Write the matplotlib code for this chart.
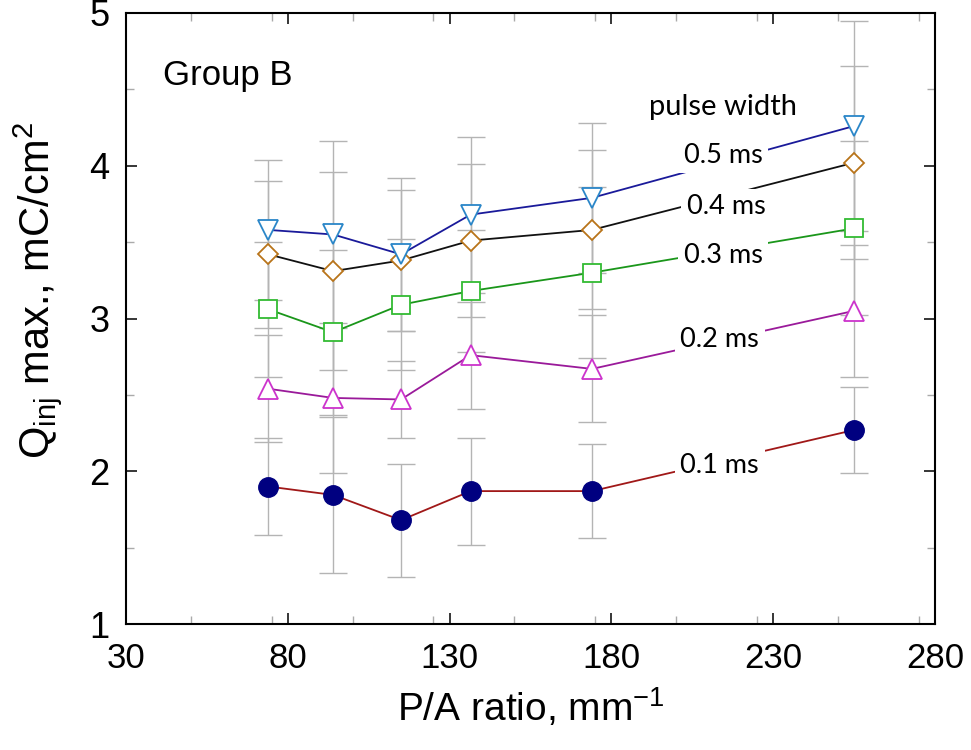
import matplotlib
matplotlib.use("Agg")
import matplotlib.pyplot as plt
from matplotlib.ticker import MultipleLocator, FixedLocator

plt.rcParams['mathtext.default'] = 'regular'

# ---- data ----
pa_ratio = [74, 94, 115, 136.5, 174, 255]
q_01 = [1.90, 1.845, 1.68, 1.87, 1.87, 2.27]
e_01 = [0.32, 0.51, 0.37, 0.35, 0.31, 0.28]
q_02 = [2.54, 2.48, 2.47, 2.76, 2.67, 3.05]
e_02 = [0.35, 0.49, 0.25, 0.35, 0.35, 0.43]
q_03 = [3.06, 2.91, 3.09, 3.18, 3.30, 3.59]
e_03 = [0.44, 0.54, 0.43, 0.40, 0.56, 0.57]
q_04 = [3.42, 3.31, 3.38, 3.51, 3.58, 4.02]
e_04 = [0.48, 0.65, 0.46, 0.50, 0.52, 0.63]
q_05 = [3.58, 3.55, 3.42, 3.68, 3.79, 4.26]
e_05 = [0.46, 0.61, 0.50, 0.51, 0.49, 0.69]
pulse_labels = ["0.1 ms", "0.2 ms", "0.3 ms", "0.4 ms", "0.5 ms"]
label_pos = [(213.5, 2.04), (213.5, 2.86), (214.5, 3.41), (215.5, 3.73), (214.5, 4.07)]
x_ticks = [30, 80, 130, 180, 230, 280]
y_ticks = [1, 2, 3, 4, 5]

series = [
    (q_01, e_01, dict(color='#a01818', marker='o', ms=14, mfc='#000080', mec='#000080', mew=1.0)),
    (q_02, e_02, dict(color='#9a1a9a', marker='^', ms=15, mfc='white', mec='#cc33cc', mew=1.3)),
    (q_03, e_03, dict(color='#1a961a', marker='s', ms=13.5, mfc='white', mec='#33bb33', mew=1.3)),
    (q_04, e_04, dict(color='#111111', marker='D', ms=10.5, mfc='white', mec='#b8741a', mew=1.3)),
    (q_05, e_05, dict(color='#1a1a9a', marker='v', ms=15, mfc='white', mec='#2a86c8', mew=1.3)),
]

fig = plt.figure(figsize=(9.71, 7.5), dpi=100)
ax = fig.add_axes([126/971, 1-624/750, 809/971, 611/750])

for q, e, st in series:
    ax.errorbar(pa_ratio, q, yerr=e, fmt='none', ecolor='#b4b4b4', elinewidth=1.0,
                capsize=10, capthick=1.0, zorder=1)
for q, e, st in series:
    ax.plot(pa_ratio, q, lw=1.3, zorder=3, **st)

for lab, (lx, ly) in zip(pulse_labels, label_pos):
    ax.text(lx, ly, lab, fontsize=19.5, family=['Lato', 'DejaVu Sans'], ha='center', va='center',
            zorder=5, bbox=dict(facecolor='white', edgecolor='none', pad=4))
ax.text(214.5, 4.385, "pulse width", fontsize=21, family=['Lato', 'DejaVu Sans'],
        ha='center', va='center', zorder=5)
ax.text(0.046, 0.897, "Group B", transform=ax.transAxes, fontsize=25,
        family=['Liberation Sans', 'DejaVu Sans'], ha='left', va='center')

ax.set_xlim(30, 280)
ax.set_ylim(1, 5)
ax.xaxis.set_major_locator(FixedLocator(x_ticks))
ax.xaxis.set_minor_locator(MultipleLocator(25))
ax.yaxis.set_major_locator(FixedLocator(y_ticks))
ax.yaxis.set_minor_locator(MultipleLocator(0.5))
ax.tick_params(which='both', direction='in', top=True, right=True)
ax.tick_params(which='major', length=8, width=1.1, color='black')
ax.tick_params(which='minor', length=6, width=1.0, color='#aaaaaa')
ax.tick_params(axis='y', which='major', pad=12)
ax.tick_params(axis='x', which='major', pad=13)
for lab in ax.get_yticklabels():
    lab.set_family(['Liberation Sans', 'DejaVu Sans'])
    lab.set_fontsize(26)
for lab in ax.get_xticklabels():
    lab.set_family(['Liberation Sans', 'DejaVu Sans'])
    lab.set_fontsize(25)
for sp in ax.spines.values():
    sp.set_linewidth(1.5)

ax.set_xlabel("P/A ratio, mm$^{-1}$", fontsize=28,
              family=['Liberation Sans', 'DejaVu Sans'], labelpad=8)
ax.set_ylabel("Q$_{inj}$ max., mC/cm$^2$", fontsize=30,
              family=['Liberation Sans', 'DejaVu Sans'])
ax.yaxis.set_label_coords(-0.077, 0.545)

fig.savefig("out.png", dpi=100)
